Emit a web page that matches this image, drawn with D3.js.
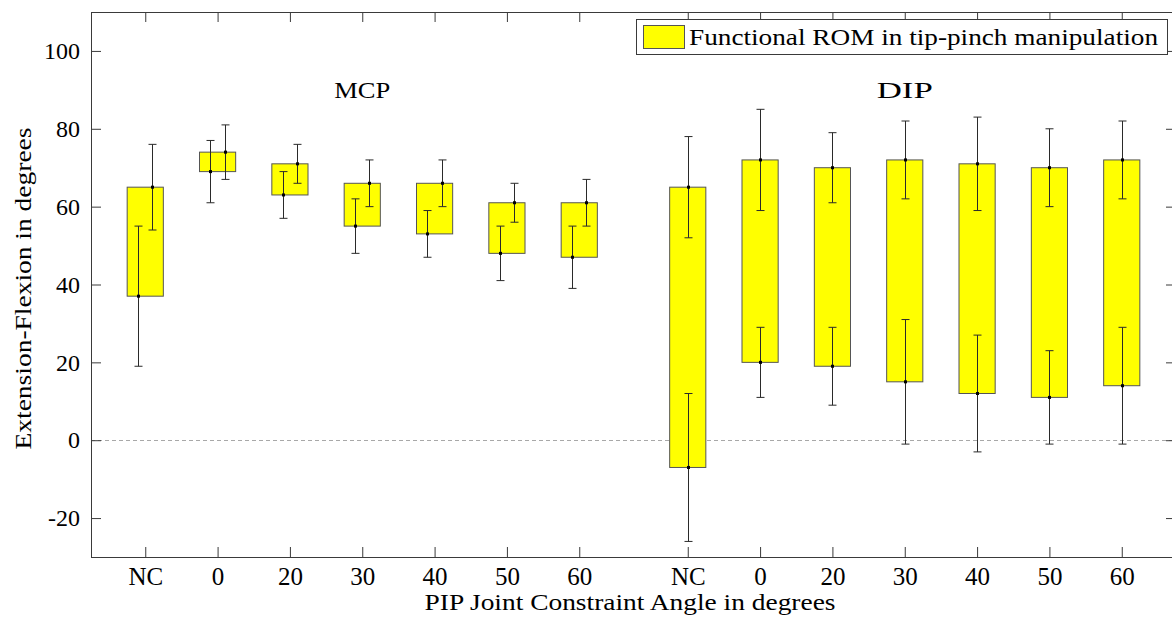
<!DOCTYPE html>
<html>
<head>
<meta charset="utf-8">
<script src="https://cdn.jsdelivr.net/npm/d3@7"></script>
<style>
  html, body { margin: 0; padding: 0; background: #fff; }
  svg { display: block; }
</style>
</head>
<body>
<svg id="chart" width="1172" height="619"></svg>
<script>
// ---- data ----
const categories = ["NC", "0", "20", "30", "40", "50", "60"];
const groups = ["MCP", "DIP"];
const mcpMin = [37, 69, 63, 55, 53, 48, 47];
const mcpMinSd = [18, 8, 6, 7, 6, 7, 8];
const mcpMax = [65, 74, 71, 66, 66, 61, 61];
const mcpMaxSd = [11, 7, 5, 6, 6, 5, 6];
const dipMin = [-7, 20, 19, 15, 12, 11, 14];
const dipMinSd = [19, 9, 10, 16, 15, 12, 15];
const dipMax = [65, 72, 70, 72, 71, 70, 72];
const dipMaxSd = [13, 13, 9, 10, 12, 10, 10];
const yTicks = [-20, 0, 20, 40, 60, 80, 100];
const legendLabel = "Functional ROM in tip-pinch manipulation";
const xTitle = "PIP Joint Constraint Angle in degrees";
const yTitle = "Extension-Flexion in degrees";

// ---- layout ----
const svg = d3.select("#chart");
const L = 91, R = 1176, T = 12, B = 557;
const x = d3.scaleLinear().domain([0.25, 15.25]).range([L, R]);
const y = d3.scaleLinear().domain([-30, 110]).range([B, T]);
const axisCol = "#3a3a3a";
const font = "Liberation Serif";

// positions: MCP at 1..7, DIP at 8.5..14.5
const rows = [];
categories.forEach((c, i) => {
  rows.push({ g: "MCP", cat: c, pos: i + 1, lo: mcpMin[i], loSd: mcpMinSd[i], hi: mcpMax[i], hiSd: mcpMaxSd[i], off: 0.1 });
});
categories.forEach((c, i) => {
  rows.push({ g: "DIP", cat: c, pos: i + 8.5, lo: dipMin[i], loSd: dipMinSd[i], hi: dipMax[i], hiSd: dipMaxSd[i], off: 0 });
});

// zero dashed line
svg.append("line")
  .attr("x1", L).attr("x2", R).attr("y1", Math.round(y(0)) + 0.5).attr("y2", Math.round(y(0)) + 0.5)
  .attr("stroke", "#a8a8a8").attr("stroke-width", 1).attr("stroke-dasharray", "4,3");

// bars
const bw = 0.5;
svg.append("g").selectAll("rect").data(rows).join("rect")
  .attr("x", d => x(d.pos - bw / 2))
  .attr("width", d => x(d.pos + bw / 2) - x(d.pos - bw / 2))
  .attr("y", d => y(d.hi))
  .attr("height", d => y(d.lo) - y(d.hi))
  .attr("fill", "#ffff00")
  .attr("stroke", "#555").attr("stroke-width", 1);

// error bars
const errs = [];
rows.forEach(d => {
  errs.push({ px: d.pos - d.off, m: d.lo, sd: d.loSd });
  errs.push({ px: d.pos + d.off, m: d.hi, sd: d.hiSd });
});
const eg = svg.append("g").attr("stroke", "#2a2a2a").attr("stroke-width", 1);
errs.forEach(e => {
  const cx = Math.round(x(e.px)) + 0.5;
  const y1 = y(e.m + e.sd), y2 = y(e.m - e.sd);
  eg.append("line").attr("x1", cx).attr("x2", cx).attr("y1", y1).attr("y2", y2);
  eg.append("line").attr("x1", cx - 4).attr("x2", cx + 4).attr("y1", y1).attr("y2", y1);
  eg.append("line").attr("x1", cx - 4).attr("x2", cx + 4).attr("y1", y2).attr("y2", y2);
  svg.append("rect").attr("x", cx - 1.5).attr("y", y(e.m) - 1.5).attr("width", 3).attr("height", 3).attr("fill", "#000");
});

// axes box with ticks on all sides
const tickPositions = rows.map(d => d.pos);
const xAxisB = d3.axisBottom(x).tickValues(tickPositions).tickSizeInner(-10).tickSizeOuter(0).tickPadding(10)
  .tickFormat(p => rows.find(r => r.pos === p).cat);
const gB = svg.append("g").attr("transform", `translate(0,${B})`).call(xAxisB);
const xAxisT = d3.axisTop(x).tickValues(tickPositions).tickSizeInner(-10).tickSizeOuter(0).tickFormat("");
svg.append("g").attr("transform", `translate(0,${T})`).call(xAxisT);
const yAxisL = d3.axisLeft(y).tickValues(yTicks).tickSizeInner(-10).tickSizeOuter(0).tickPadding(11)
  .tickFormat(v => String(v));
const gL = svg.append("g").attr("transform", `translate(${L},0)`).call(yAxisL);
const yAxisR = d3.axisRight(y).tickValues(yTicks).tickSizeInner(-10).tickSizeOuter(0).tickFormat("");
svg.append("g").attr("transform", `translate(${R},0)`).call(yAxisR);
gB.selectAll("text").style("font-size", "25px").attr("dy", "0.71em");
gL.selectAll("text").style("font-size", "24px");
svg.selectAll(".domain").remove();
svg.selectAll(".tick line").attr("stroke", axisCol);
svg.append("rect").attr("x", L + 0.5).attr("y", T + 0.5).attr("width", R - L).attr("height", B - T)
  .attr("fill", "none").attr("stroke", axisCol).attr("stroke-width", 1);

// group labels
groups.forEach((g, gi) => {
  svg.append("text").attr("x", x(gi === 0 ? 4 : 11.5)).attr("y", 98)
    .attr("text-anchor", "middle").style("font-size", "24px")
    .attr("textLength", 56).attr("lengthAdjust", "spacingAndGlyphs")
    .text(g);
});

// legend
const lg = svg.append("g");
lg.append("rect").attr("x", 636.5).attr("y", 19.5).attr("width", 531).attr("height", 35)
  .attr("fill", "#fff").attr("stroke", axisCol).attr("stroke-width", 1);
lg.append("rect").attr("x", 643.5).attr("y", 25.5).attr("width", 41).attr("height", 23)
  .attr("fill", "#ffff00").attr("stroke", "#555").attr("stroke-width", 1);
lg.append("text").attr("x", 689).attr("y", 44.5).style("font-size", "24px")
  .attr("textLength", 469).attr("lengthAdjust", "spacingAndGlyphs").text(legendLabel);

// axis titles
svg.append("text").attr("x", 630).attr("y", 610).attr("text-anchor", "middle")
  .style("font-size", "24px").attr("textLength", 411).attr("lengthAdjust", "spacingAndGlyphs").text(xTitle);
svg.append("text").attr("transform", `translate(31,${(T + B) / 2 + 4}) rotate(-90)`)
  .attr("text-anchor", "middle").style("font-size", "24px")
  .attr("textLength", 322).attr("lengthAdjust", "spacingAndGlyphs").text(yTitle);

// font for every text
svg.selectAll("g").attr("font-family", null);
svg.selectAll("text").style("font-family", font).attr("fill", "#000");
</script>
</body>
</html>
